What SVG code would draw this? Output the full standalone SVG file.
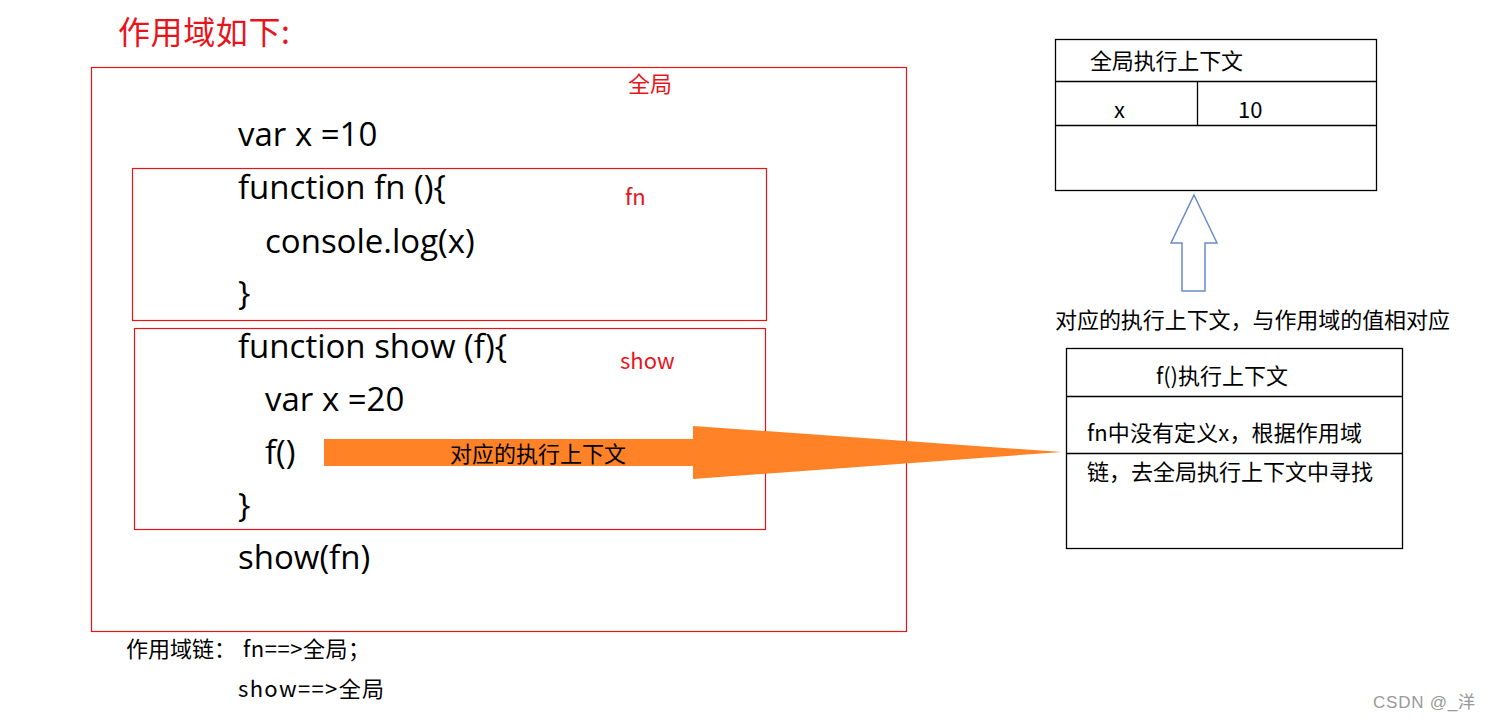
<svg xmlns="http://www.w3.org/2000/svg" width="1490" height="720" viewBox="0 0 1490 720">
<style>
.code{font-family:"Open Sans","Noto Sans CJK SC",sans-serif;font-size:33px;fill:#000}
.red{font-family:"Noto Sans CJK SC","Noto Sans",sans-serif;fill:#e8141c}
.t{font-family:"Noto Sans CJK SC","Noto Sans",sans-serif;fill:#000;font-size:22px}
.rbox{fill:none;stroke:#e8141c;stroke-width:1.2}
.kbox{fill:none;stroke:#000;stroke-width:1.3}
</style>
<rect width="1490" height="720" fill="#fff"/>
<text class="red" x="118" y="44" font-size="32" textLength="172">作用域如下:</text>
<g id="global-scope">
<rect class="rbox" x="91.5" y="67.5" width="815" height="564"/>
<text class="red" x="628" y="92" font-size="22">全局</text>
<text class="code" x="238" y="146">var x =10</text>
<text class="code" x="238" y="569">show(fn)</text>
</g>
<g id="fn-scope">
<rect class="rbox" x="132.5" y="168.5" width="634" height="152"/>
<text class="red" x="625" y="205" font-size="22">fn</text>
<text class="code" x="238" y="199">function fn (){</text>
<text class="code" x="265" y="253">console.log(x)</text>
<text class="code" x="238" y="305">}</text>
</g>
<g id="show-scope">
<rect class="rbox" x="134.5" y="328.5" width="631" height="201"/>
<text class="red" x="620" y="369" font-size="22">show</text>
<text class="code" x="238" y="358">function show (f){</text>
<text class="code" x="265" y="411">var x =20</text>
<text class="code" x="265" y="464">f()</text>
<text class="code" x="238" y="517">}</text>
</g>
<g id="connectors">
<polygon points="324,439 693,439 693,426 1062,452 693,479 693,466 324,466" fill="#ff8227"/>
<text class="t" x="450" y="462" textLength="176">对应的执行上下文</text>
<polygon points="1194,195 1217,243 1205,243 1205,291 1182,291 1182,243 1171,243" fill="#fff" stroke="#6a8cc7" stroke-width="1.5"/>
</g>
<g id="global-context">
<rect class="kbox" x="1055.5" y="39.5" width="321" height="151"/>
<line class="kbox" x1="1055" y1="81.5" x2="1377" y2="81.5"/>
<line class="kbox" x1="1055" y1="125.5" x2="1377" y2="125.5"/>
<line class="kbox" x1="1197.5" y1="81" x2="1197.5" y2="125"/>
<text class="t" x="1090" y="69" textLength="153">全局执行上下文</text>
<text class="t" x="1114" y="118">x</text>
<text class="t" x="1238" y="118">10</text>
</g>
<text class="t" x="1055" y="328" textLength="395">对应的执行上下文，与作用域的值相对应</text>
<g id="f-context">
<rect class="kbox" x="1066.5" y="348.5" width="336" height="200"/>
<line class="kbox" x1="1066" y1="396.5" x2="1403" y2="396.5"/>
<line class="kbox" x1="1066" y1="453.5" x2="1403" y2="453.5"/>
<text class="t" x="1156" y="384" textLength="132">f()执行上下文</text>
<text class="t" x="1087" y="441" textLength="275">fn中没有定义x，根据作用域</text>
<text class="t" x="1087" y="480" textLength="286">链，去全局执行上下文中寻找</text>
</g>
<text class="t" x="126" y="657" font-size="21">作用域链：</text>
<text class="t" x="243" y="657" font-size="21" textLength="127">fn==&gt;全局；</text>
<text class="t" x="238" y="697" font-size="21" textLength="146">show==&gt;全局</text>
<text x="1373" y="708" font-family="Liberation Sans,Noto Sans CJK SC,sans-serif" font-size="17" fill="#999" textLength="102">CSDN @_洋</text>
</svg>
